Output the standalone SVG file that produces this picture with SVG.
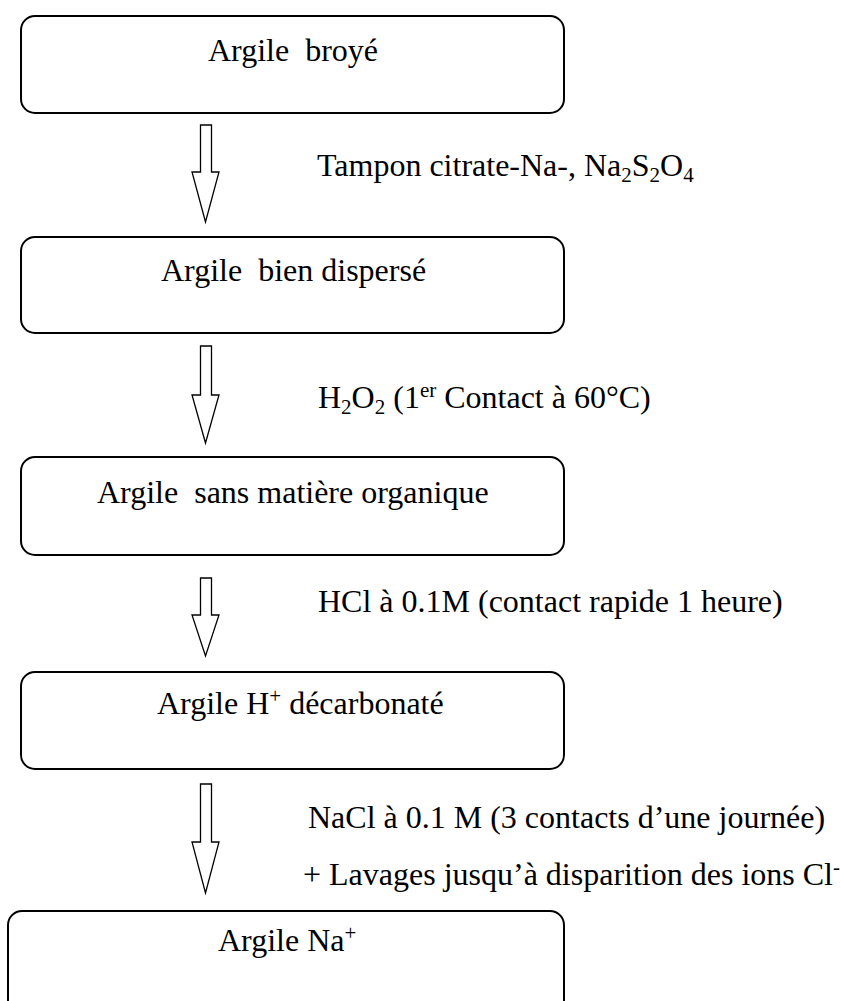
<svg xmlns="http://www.w3.org/2000/svg" width="841" height="1001" viewBox="0 0 841 1001">
  <style>
    .box { fill: #ffffff; stroke: #000000; stroke-width: 2; }
    .arrow { fill: #ffffff; stroke: #000000; stroke-width: 1.3; stroke-linejoin: miter; }
    text { font-family: "Liberation Serif", "Times New Roman", serif; font-size: 32px; fill: #000000; }
    .s { font-size: 21px; }
  </style>
  <rect width="841" height="1001" fill="#ffffff"/>

  <!-- process steps -->
  <g id="step-broye">
    <rect class="box" x="21" y="16" width="543" height="97" rx="14"/>
    <text x="208" y="61" xml:space="preserve">Argile  broyé</text>
  </g>
  <g id="step-disperse">
    <rect class="box" x="21" y="237" width="543" height="96" rx="14"/>
    <text x="161" y="281" xml:space="preserve">Argile  bien dispersé</text>
  </g>
  <g id="step-sans-mo">
    <rect class="box" x="21" y="457" width="543" height="98" rx="14"/>
    <text x="97" y="503" xml:space="preserve">Argile  sans matière organique</text>
  </g>
  <g id="step-h">
    <rect class="box" x="21" y="672" width="543" height="97" rx="14"/>
    <text x="157" y="714">Argile H<tspan class="s" dy="-11">+</tspan><tspan dy="11"> décarbonaté</tspan></text>
  </g>
  <g id="step-na">
    <rect class="box" x="8" y="911" width="556" height="110" rx="14"/>
    <text x="218" y="951">Argile Na<tspan class="s" dy="-11">+</tspan></text>
  </g>

  <!-- connectors: hollow block arrows with their reagent labels -->
  <g id="connectors">
    <polygon class="arrow" points="200.5,125 211.5,125 211.5,172 219,172 205.5,222 192,172 200.5,172"/>
    <polygon class="arrow" points="200.5,346 211.5,346 211.5,395 219,395 205.5,443 192,395 200.5,395"/>
    <polygon class="arrow" points="200.5,578 211.5,578 211.5,615 219,615 205.5,656 192,615 200.5,615"/>
    <polygon class="arrow" points="200.5,784 211.5,784 211.5,842 219,842 205.5,893 192,842 200.5,842"/>

    <text x="317" y="176">Tampon citrate-Na-, Na<tspan class="s" dy="6">2</tspan><tspan dy="-6">S</tspan><tspan class="s" dy="6">2</tspan><tspan dy="-6">O</tspan><tspan class="s" dy="6">4</tspan></text>
    <text x="318" y="408">H<tspan class="s" dy="6">2</tspan><tspan dy="-6">O</tspan><tspan class="s" dy="6">2</tspan><tspan dy="-6"> (1</tspan><tspan class="s" dy="-11">er</tspan><tspan dy="11"> Contact à 60°C)</tspan></text>
    <text x="318" y="612">HCl à 0.1M (contact rapide 1 heure)</text>
    <text x="308" y="828">NaCl à 0.1 M (3 contacts d’une journée)</text>
    <text x="303" y="885">+ Lavages jusqu’à disparition des ions Cl<tspan class="s" dy="-11">-</tspan></text>
  </g>
</svg>
